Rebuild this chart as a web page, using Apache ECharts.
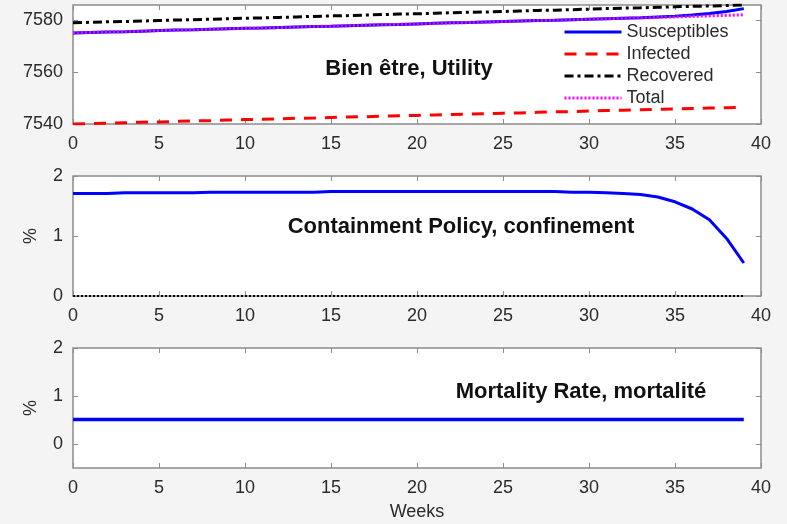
<!DOCTYPE html>
<html>
<head>
<meta charset="utf-8">
<script src="https://cdn.jsdelivr.net/npm/echarts@6/dist/echarts.min.js"></script>
<style>
html,body{margin:0;padding:0;background:#f4f4f4;}
#chart{width:787px;height:524px;}
</style>
</head>
<body>
<div id="chart"></div>
<script>
// ---- data ----
const weeks = [0,1,2,3,4,5,6,7,8,9,10,11,12,13,14,15,16,17,18,19,20,21,22,23,24,25,26,27,28,29,30,31,32,33,34,35,36,37,38,39];
const susceptibles = [7575.2,7575.4,7575.6,7575.7,7575.9,7576.1,7576.3,7576.4,7576.6,7576.8,
  7577.0,7577.1,7577.3,7577.5,7577.7,7577.8,7578.0,7578.2,7578.4,7578.5,
  7578.7,7578.9,7579.1,7579.2,7579.4,7579.6,7579.8,7580.0,7580.1,7580.3,
  7580.5,7580.7,7580.9,7581.1,7581.4,7581.7,7582.1,7582.7,7583.5,7584.6];
const infected = [7540.0,7540.2,7540.3,7540.5,7540.7,7540.8,7541.0,7541.2,7541.3,7541.5,
  7541.7,7541.8,7542.0,7542.2,7542.3,7542.5,7542.7,7542.8,7543.0,7543.2,
  7543.3,7543.5,7543.7,7543.8,7544.0,7544.2,7544.3,7544.5,7544.7,7544.8,
  7545.0,7545.2,7545.3,7545.5,7545.7,7545.8,7546.0,7546.2,7546.3,7546.5];
const recovered = [7579.1,7579.3,7579.5,7579.6,7579.8,7580.0,7580.2,7580.3,7580.5,7580.7,
  7580.9,7581.0,7581.2,7581.4,7581.6,7581.8,7581.9,7582.1,7582.3,7582.5,
  7582.6,7582.8,7583.0,7583.2,7583.3,7583.5,7583.7,7583.9,7584.0,7584.2,
  7584.4,7584.6,7584.8,7584.9,7585.1,7585.3,7585.5,7585.6,7585.8,7586.0];
const total = [7575.2,7575.4,7575.6,7575.7,7575.9,7576.1,7576.3,7576.4,7576.6,7576.8,
  7577.0,7577.1,7577.3,7577.5,7577.7,7577.8,7578.0,7578.2,7578.4,7578.5,
  7578.7,7578.9,7579.1,7579.2,7579.4,7579.6,7579.8,7580.0,7580.1,7580.3,
  7580.5,7580.7,7580.9,7581.0,7581.2,7581.4,7581.6,7581.8,7582.0,7582.2];
const policy = [1.71,1.71,1.71,1.72,1.72,1.72,1.72,1.72,1.73,1.73,
  1.73,1.73,1.73,1.73,1.73,1.74,1.74,1.74,1.74,1.74,
  1.74,1.74,1.74,1.74,1.74,1.74,1.74,1.74,1.74,1.73,
  1.73,1.72,1.71,1.69,1.65,1.57,1.45,1.27,0.96,0.55];
const policyZero = [0,0,0,0,0,0,0,0,0,0,0,0,0,0,0,0,0,0,0,0,0,0,0,0,0,0,0,0,0,0,0,0,0,0,0,0,0,0,0,0];
const mortality = [0.51,0.51,0.51,0.51,0.51,0.51,0.51,0.51,0.51,0.51,0.51,0.51,0.51,0.51,0.51,0.51,0.51,0.51,0.51,0.51,
  0.51,0.51,0.51,0.51,0.51,0.51,0.51,0.51,0.51,0.51,0.51,0.51,0.51,0.51,0.51,0.51,0.51,0.51,0.51,0.51];

const xTicks = [0,5,10,15,20,25,30,35,40];
const topTicks = [7540,7560,7580];
const pctTicks = [0,1,2];
const legendNames = ['Susceptibles','Infected','Recovered','Total'];
const panelTitles = ['Bien être, Utility','Containment Policy, confinement','Mortality Rate, mortalité'];
const xName = 'Weeks';
const yName = '%';

// ---- styling / layout ----
const FONT = 'Liberation Sans, Arial, sans-serif';
const TXT = '#2b2b2b';
const AX = '#8c8c8c';
const PLOT_W = 787 - 73 - 26;
const grids = [
  {left:73, right:26, top:5, height:119},
  {left:73, right:26, top:176, height:120},
  {left:73, right:26, top:348, height:120}
];
const yRanges = [[7540,7586],[0,2],[-0.5,2]];
const yTickSets = [topTicks, pctTicks, pctTicks];

const pair = (arr) => arr.map((v,i)=>[weeks[i], v]);

const xAxes = [], yAxes = [];
grids.forEach((g, gi) => {
  xAxes.push({
    type:'value', gridIndex:gi, min:0, max:40, interval:5, position:'bottom',
    name: gi===2 ? xName : '', nameLocation:'middle', nameGap:35,
    nameTextStyle:{fontFamily:FONT, fontSize:18, color:TXT},
    axisLine:{show:false, onZero:false},
    axisTick:{show:true, inside:true, length:5, lineStyle:{color:AX}},
    axisLabel:{show:true, margin:11, fontFamily:FONT, fontSize:18, color:TXT},
    splitLine:{show:false}
  });
  xAxes.push({
    type:'value', gridIndex:gi, min:0, max:40, interval:5, position:'top',
    axisLine:{show:false, onZero:false},
    axisTick:{show:true, inside:true, length:5, lineStyle:{color:AX}},
    axisLabel:{show:false},
    splitLine:{show:false}
  });
  // left labels (ticks drawn by the mirrored axes below)
  yAxes.push({
    type:'value', gridIndex:gi, min:yRanges[gi][0], max:yRanges[gi][1], position:'left',
    name: gi>0 ? yName : '', nameLocation:'middle', nameGap:33,
    nameTextStyle:{fontFamily:FONT, fontSize:18, color:TXT},
    axisLine:{show:false, onZero:false},
    axisTick:{show:false},
    axisLabel:{show:true, margin:10, fontFamily:FONT, fontSize:18, color:TXT,
      customValues:yTickSets[gi], formatter:(v)=>String(v)},
    splitLine:{show:false}
  });
  // tick marks on left edge pointing into plot
  yAxes.push({
    type:'value', gridIndex:gi, min:yRanges[gi][0], max:yRanges[gi][1], position:'right', offset:-PLOT_W,
    axisLine:{show:false, onZero:false},
    axisTick:{show:true, length:5, lineStyle:{color:AX}, customValues:yTickSets[gi]},
    axisLabel:{show:false},
    splitLine:{show:false}
  });
  // tick marks on right edge pointing into plot
  yAxes.push({
    type:'value', gridIndex:gi, min:yRanges[gi][0], max:yRanges[gi][1], position:'left', offset:-PLOT_W,
    axisLine:{show:false, onZero:false},
    axisTick:{show:true, length:5, lineStyle:{color:AX}, customValues:yTickSets[gi]},
    axisLabel:{show:false},
    splitLine:{show:false}
  });
});

function line(name, data, gi, color, width, type, z) {
  return {
    name, type:'line', xAxisIndex:gi*2, yAxisIndex:gi*3, data:pair(data),
    showSymbol:false, symbol:'none', smooth:false, silent:true, animation:false, z:z||2,
    lineStyle:{color, width, type: type||'solid'}, itemStyle:{color}
  };
}

const option = {
  backgroundColor:'#f4f4f4',
  animation:false,
  grid: grids.map(g => Object.assign({show:true, backgroundColor:'#ffffff', borderColor:AX, borderWidth:1.5, containLabel:false}, g)),
  xAxis: xAxes,
  yAxis: yAxes,
  legend: {
    data: legendNames, orient:'vertical', left:563, top:23, padding:0,
    itemWidth:57, itemHeight:14, itemGap:4, selectedMode:false,
    itemStyle:{opacity:0},
    lineStyle:{width:3},
    textStyle:{fontFamily:FONT, fontSize:18, color:TXT}
  },
  series: [
    line(legendNames[0], susceptibles, 0, '#0000ff', 3, 'solid', 2),
    line(legendNames[1], infected, 0, '#ff0000', 3, [12,9], 3),
    line(legendNames[2], recovered, 0, '#000000', 3, [9,4,3,4], 4),
    line(legendNames[3], total, 0, '#ff00ff', 3, [2,2], 5),
    line('policy', policy, 1, '#0000ff', 3, 'solid', 2),
    line('zero', policyZero, 1, '#000000', 2, [2,2], 3),
    line('mortality', mortality, 2, '#0000ff', 3.5, 'solid', 2)
  ],
  graphic: [
    {type:'text', x:409, y:69, style:{text:panelTitles[0], align:'center', verticalAlign:'middle', font:'bold 22px Liberation Sans, Arial, sans-serif', fill:'#111'}},
    {type:'text', x:461, y:227, style:{text:panelTitles[1], align:'center', verticalAlign:'middle', font:'bold 22px Liberation Sans, Arial, sans-serif', fill:'#111'}},
    {type:'text', x:581, y:392, style:{text:panelTitles[2], align:'center', verticalAlign:'middle', font:'bold 22px Liberation Sans, Arial, sans-serif', fill:'#111'}}
  ]
};

const chart = echarts.init(document.getElementById('chart'), null, {renderer:'canvas'});
chart.setOption(option);
</script>
</body>
</html>
